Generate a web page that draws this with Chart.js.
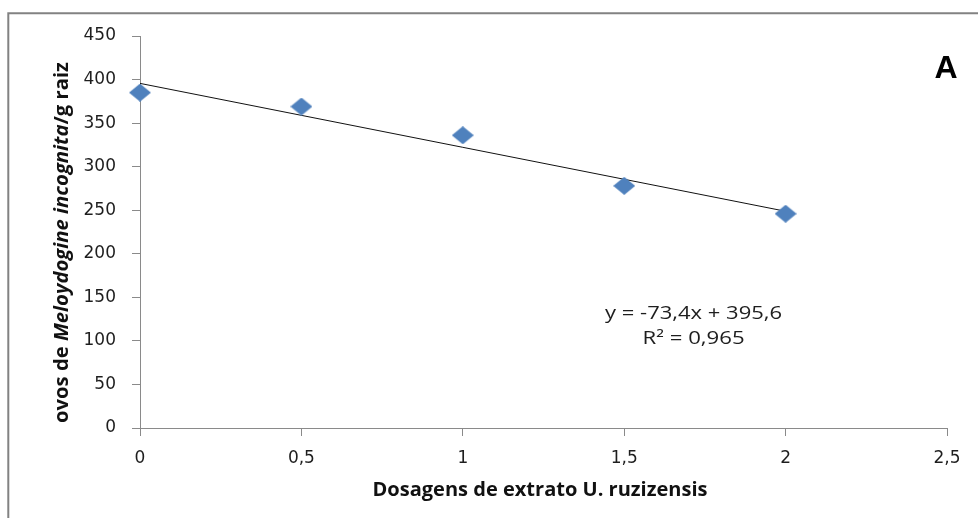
<!DOCTYPE html>
<html><head><meta charset="utf-8">
<script src="https://cdn.jsdelivr.net/npm/chart.js@4"></script>
<style>html,body{margin:0;padding:0;background:#fff}#c{display:block}</style>
</head><body>
<div style="width:978px;height:518px"><canvas id="c" width="978" height="518"></canvas></div>
<script>
const doses = [0, 0.5, 1, 1.5, 2];
const eggs = [385, 369, 336, 278, 246];
const trendX = [0, 2];
const trendY = [395.6, 248.8];
const xTicks = ['0', '0,5', '1', '1,5', '2', '2,5'];
const yTicks = [0, 50, 100, 150, 200, 250, 300, 350, 400, 450];
const equationText = ['y = -73,4x + 395,6', 'R² = 0,965'];
const panelLabel = 'A';
const xTitle = 'Dosagens de extrato U. ruzizensis';

const FONT = '"Open Sans", Lato, sans-serif';
const TICKFONT = '"DejaVu Sans", "Open Sans", sans-serif';

// diamond marker (slightly wider than tall, as in the reference)
const marker = document.createElement('canvas');
marker.width = 22; marker.height = 18;
(function () {
  const m = marker.getContext('2d');
  m.fillStyle = '#4F81BD';
  m.beginPath();
  m.moveTo(11, 0); m.lineTo(22, 9); m.lineTo(11, 18); m.lineTo(0, 9);
  m.closePath(); m.fill();
})();

// draw text pieces fitted to a target width, centered at cx, alphabetic baseline at by
function fitText(ctx, parts, cx, by, targetW) {
  let total = 0;
  parts.forEach(p => { ctx.font = p[1]; total += ctx.measureText(p[0]).width; });
  const s = targetW / total;
  ctx.save();
  ctx.translate(cx, by);
  ctx.scale(s, 1);
  ctx.textAlign = 'left';
  ctx.textBaseline = 'alphabetic';
  let x = -total / 2;
  parts.forEach(p => { ctx.font = p[1]; ctx.fillText(p[0], x, 0); x += ctx.measureText(p[0]).width; });
  ctx.restore();
}

const deco = {
  id: 'deco',
  afterDraw(chart) {
    const ctx = chart.ctx;
    const xs = chart.scales.x, ys = chart.scales.y;
    ctx.save();
    // frame
    ctx.strokeStyle = '#828282';
    ctx.lineWidth = 2;
    ctx.beginPath();
    ctx.moveTo(8.3, 520); ctx.lineTo(8.3, 13.3); ctx.lineTo(980, 13.3);
    ctx.stroke();
    // panel label
    ctx.fillStyle = '#000';
    ctx.font = 'bold 32px "Liberation Sans", Arial, sans-serif';
    ctx.textAlign = 'center'; ctx.textBaseline = 'alphabetic';
    ctx.fillText(panelLabel, 946, 78);
    // equation
    ctx.fillStyle = '#1e1e1e';
    const ex = xs.getPixelForValue(1.715);
    fitText(ctx, [[equationText[0], '17.5px ' + FONT]], ex, ys.getPixelForValue(125), 177);
    fitText(ctx, [[equationText[1], '17.5px ' + FONT]], ex, ys.getPixelForValue(96.5), 102);
    // x title
    ctx.fillStyle = '#111';
    fitText(ctx, [[xTitle, 'bold 19.5px ' + FONT]], 540, 496, 335);
    // y title (mixed styles)
    ctx.save();
    ctx.translate(67.5, 242.5);
    ctx.rotate(-Math.PI / 2);
    fitText(ctx, [
      ['ovos de ', 'bold 19px ' + FONT],
      ['Meloydogine incognita', 'italic bold 19px ' + FONT],
      ['/g raiz', 'bold 19px ' + FONT]
    ], 0, 0, 361);
    ctx.restore();
    ctx.restore();
  }
};

new Chart(document.getElementById('c'), {
  type: 'scatter',
  data: {
    datasets: [
      {
        label: 'trend',
        data: trendX.map((x, i) => ({x, y: trendY[i]})),
        showLine: true,
        borderColor: '#111',
        borderWidth: 1,
        pointRadius: 0,
        order: 2
      },
      {
        label: 'ovos',
        data: doses.map((x, i) => ({x, y: eggs[i]})),
        pointStyle: marker,
        pointRadius: 10,
        backgroundColor: '#4F81BD',
        borderColor: '#4F81BD',
        clip: false,
        order: 1
      }
    ]
  },
  options: {
    responsive: false,
    animation: false,
    events: [],
    layout: { padding: { left: 0, right: 31, top: 36, bottom: 0 } },
    plugins: { legend: { display: false }, tooltip: { enabled: false } },
    scales: {
      x: {
        type: 'linear', min: 0, max: 2.5,
        afterBuildTicks(s) { s.ticks = xTicks.map((_, i) => ({value: i * 0.5})); },
        ticks: { callback: (v, i) => xTicks[i], color: '#1e1e1e', font: { family: TICKFONT, size: 17 }, padding: 12, maxRotation: 0 },
        grid: { drawOnChartArea: false, drawTicks: true, tickLength: 8, color: '#8a8a8a' },
        border: { color: '#8a8a8a', width: 1 },
        afterFit(s) { s.height = 90; }
      },
      y: {
        type: 'linear', min: 0, max: 450,
        afterBuildTicks(s) { s.ticks = yTicks.map(v => ({value: v})); },
        ticks: { color: '#1e1e1e', font: { family: TICKFONT, size: 17 }, padding: 16 },
        grid: { drawOnChartArea: false, drawTicks: true, tickLength: 8, color: '#8a8a8a' },
        border: { color: '#8a8a8a', width: 1 },
        afterFit(s) { s.width = 140; }
      }
    }
  },
  plugins: [deco]
});
</script>
</body></html>
